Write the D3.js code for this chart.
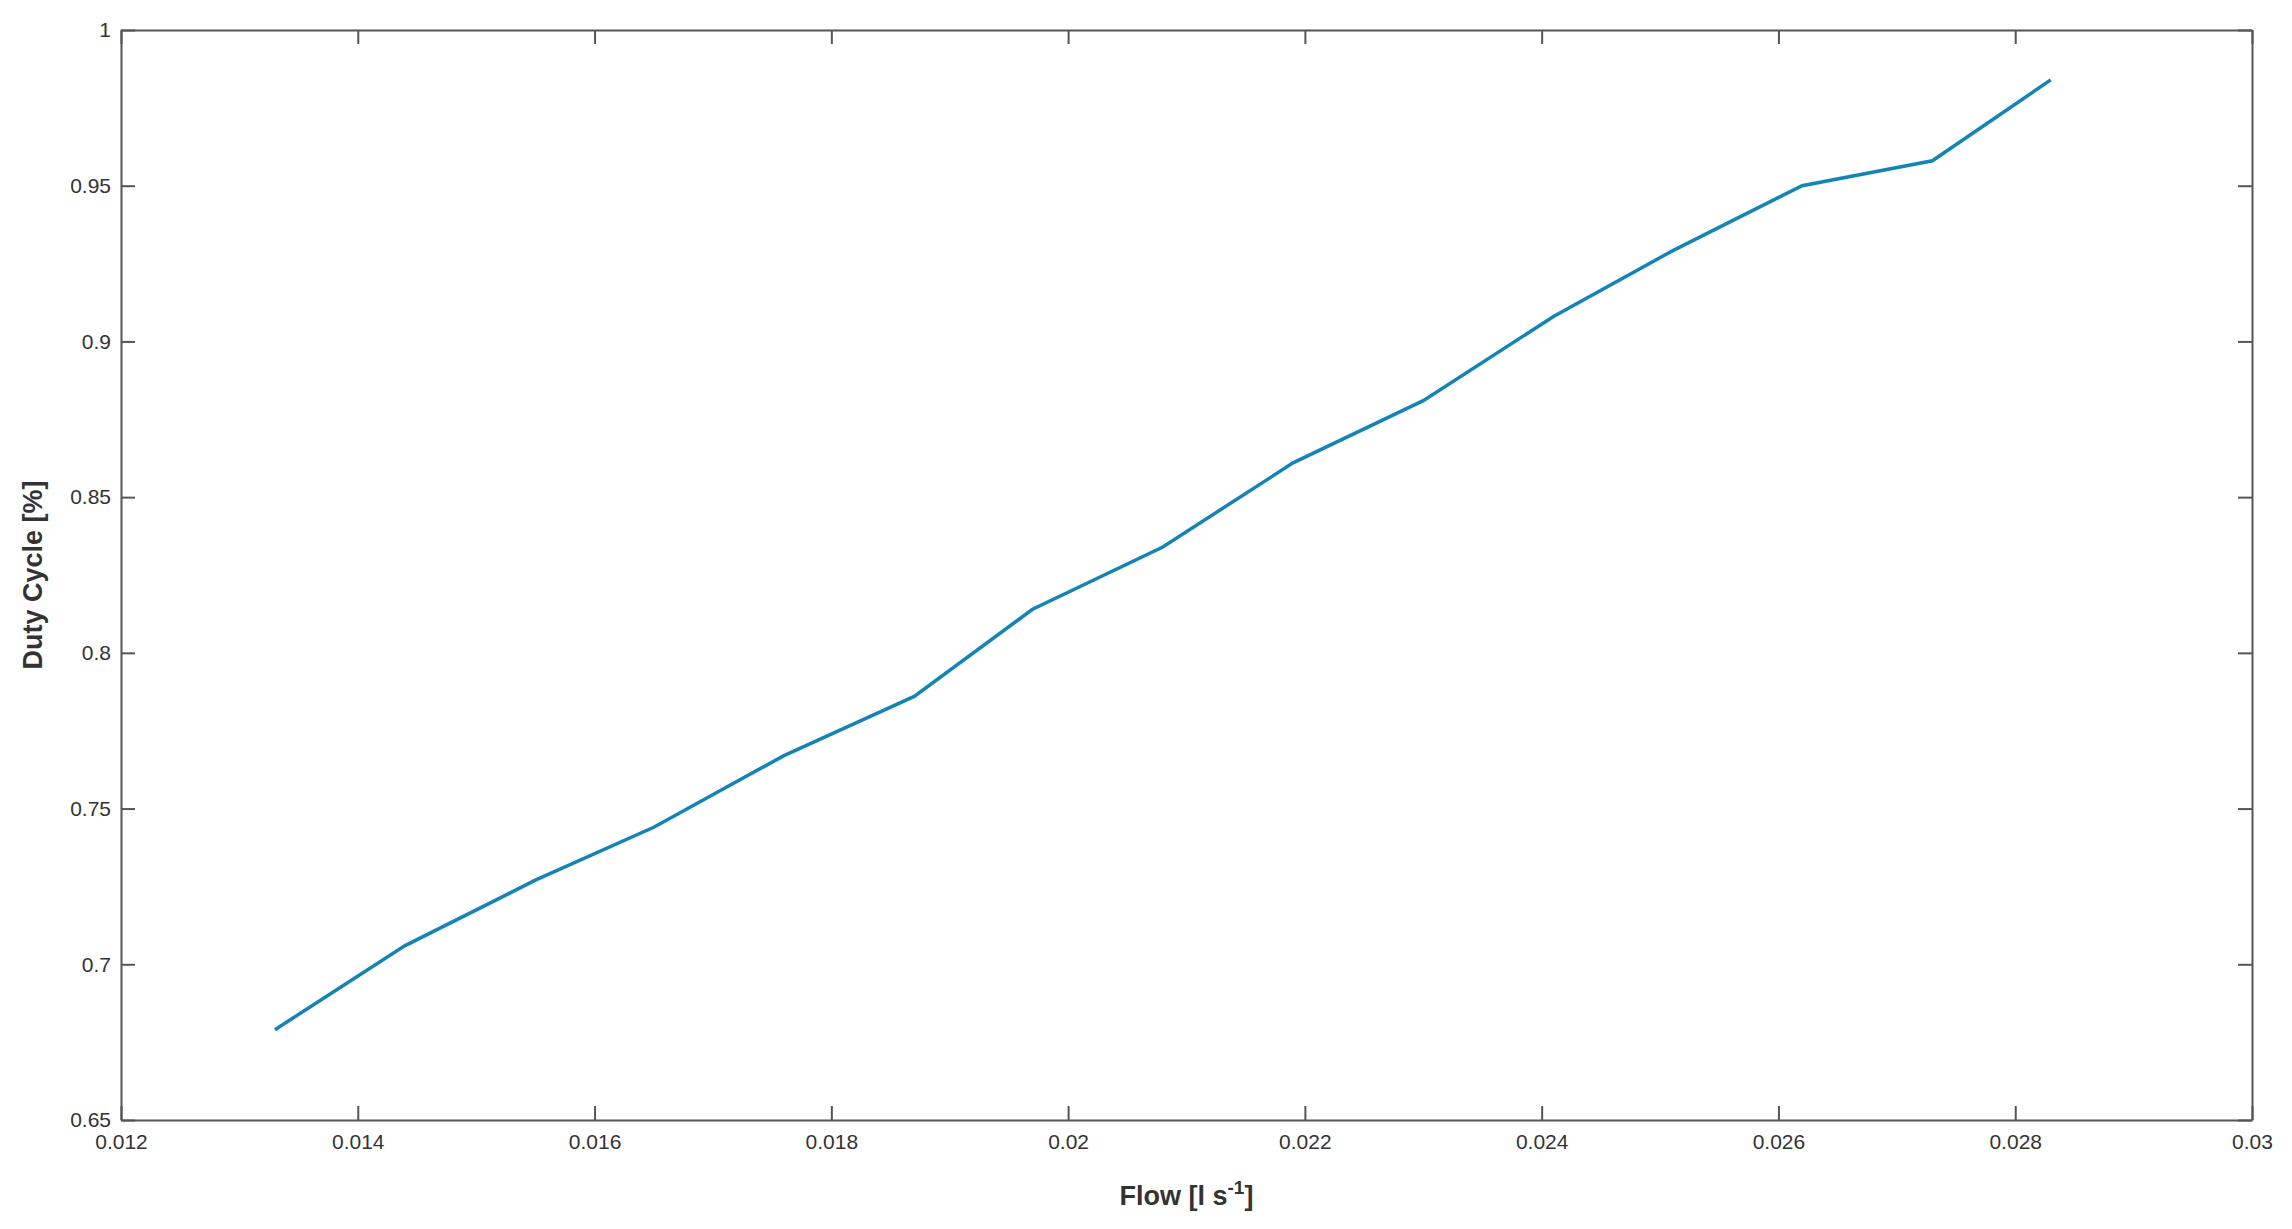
<!DOCTYPE html>
<html><head><meta charset="utf-8">
<script src="https://cdn.jsdelivr.net/npm/d3@7"></script>
<style>body{margin:0;background:#fff}</style></head>
<body><svg id="c" width="2292" height="1229"></svg>
<script>
const flow = [0.0133,0.0144,0.0155,0.0165,0.0176,0.0187,0.0197,0.0208,0.0219,0.0230,0.0241,0.0251,0.0262,0.0273,0.0283];
const duty = [0.679,0.706,0.727,0.744,0.767,0.786,0.814,0.834,0.861,0.881,0.908,0.929,0.950,0.958,0.984];
const xTicks = [0.012,0.014,0.016,0.018,0.02,0.022,0.024,0.026,0.028,0.03];
const yTicks = [0.65,0.7,0.75,0.8,0.85,0.9,0.95,1];

const L=121,R=2252,T=30,B=1120;
const svg=d3.select("#c");
const x=d3.scaleLinear().domain([0.012,0.03]).range([L,R]);
const y=d3.scaleLinear().domain([0.65,1]).range([B,T]);
const fmt=d=>String(+d.toFixed(3));
const style=g=>{g.select(".domain").attr("stroke","#555").attr("stroke-width",2);
  g.selectAll(".tick line").attr("stroke","#555").attr("stroke-width",2);
  g.selectAll("text").attr("fill","#333").style("font-family","Liberation Sans, Arial").style("font-size","21px");};
svg.append("g").attr("transform",`translate(0,${B})`).call(d3.axisBottom(x).tickValues(xTicks).tickFormat(fmt).tickSizeInner(-14).tickSizeOuter(0).tickPadding(14)).call(style);
svg.append("g").attr("transform",`translate(0,${T})`).call(d3.axisTop(x).tickValues(xTicks).tickFormat("").tickSizeInner(-14).tickSizeOuter(0)).call(style);
svg.append("g").attr("transform",`translate(${L},0)`).call(d3.axisLeft(y).tickValues(yTicks).tickFormat(fmt).tickSizeInner(-14).tickSizeOuter(0).tickPadding(10)).call(style);
svg.append("g").attr("transform",`translate(${R},0)`).call(d3.axisRight(y).tickValues(yTicks).tickFormat("").tickSizeInner(-14).tickSizeOuter(0)).call(style);

svg.append("path").datum(flow.map((f,i)=>[f,duty[i]]))
 .attr("d",d3.line().x(d=>x(d[0])).y(d=>y(d[1])))
 .attr("fill","none").attr("stroke","#1484b4").attr("stroke-width",3.5);

const t=svg.append("text").attr("x",(L+R)/2).attr("y",1205).attr("text-anchor","middle")
 .style("font-family","Liberation Sans, Arial").style("font-weight","bold").style("font-size","27px").attr("fill","#333");
t.append("tspan").text("Flow [l s");
t.append("tspan").text("-1").attr("dy",-11).style("font-size","19px");
t.append("tspan").text("]").attr("dy",11);
svg.append("text").attr("transform",`translate(42,${(T+B)/2}) rotate(-90)`).attr("text-anchor","middle")
 .style("font-family","Liberation Sans, Arial").style("font-weight","bold").style("font-size","27px").attr("fill","#333")
 .text("Duty Cycle [%]");
</script></body></html>
